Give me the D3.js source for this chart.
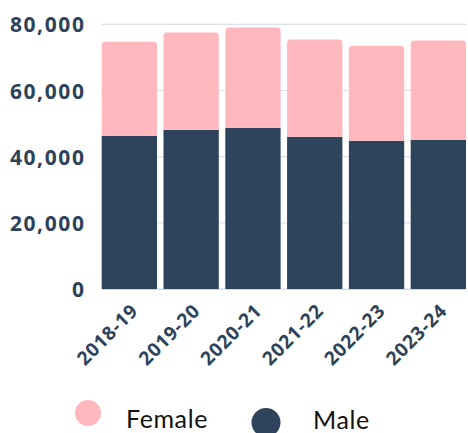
<!DOCTYPE html>
<html>
<head>
<meta charset="utf-8">
<script src="https://cdn.jsdelivr.net/npm/d3@7"></script>
<style>
  body { margin: 0; background: #fff; }
  svg { display: block; }
  .tick text { font-family: "Open Sans", sans-serif; font-weight: 700; fill: #2e4259; }
</style>
</head>
<body>
<svg id="chart"></svg>
<script>
let years = ["2018-19", "2019-20", "2020-21", "2021-22", "2022-23", "2023-24"]
let male = [46300, 48100, 48700, 46000, 44800, 45100]
let female = [28400, 29400, 30300, 29400, 28700, 30000]
let yTicks = [0, 20000, 40000, 60000, 80000]

let W = 468, H = 433
let navy = "#2e435c", pink = "#ffb8bd"

var svg = d3.select("#chart").attr("width", W).attr("height", H)

var x = d3.scaleBand()
    .domain(years)
    .range([101.7, 466])
    .paddingInner(0.105)
    .paddingOuter(0)

var y = d3.scaleLinear()
    .domain([0, 80000])
    .range([289, 24.3])

// gridlines
svg.append("g")
    .selectAll("line")
    .data(yTicks)
    .enter().append("line")
    .attr("x1", 101.7).attr("x2", 466)
    .attr("y1", d => y(d)).attr("y2", d => y(d))
    .attr("stroke", "#dde0e6")
    .attr("stroke-width", 1.2)

// y axis labels
var yAxis = svg.append("g")
    .attr("transform", "translate(85.5,0)")
    .call(d3.axisLeft(y).tickValues(yTicks).tickSize(0).tickPadding(0).tickFormat(d3.format(",")))
yAxis.select(".domain").remove()
yAxis.selectAll("text")
    .style("font-size", "21px")
    .style("letter-spacing", "1.6px")
    .attr("dy", "0.36em")

let data = years.map((d, i) => ({ year: d, male: male[i], female: female[i] }))

// male bars
svg.append("g")
    .selectAll("rect")
    .data(data)
    .enter().append("rect")
    .attr("x", d => x(d.year))
    .attr("y", d => y(d.male))
    .attr("width", x.bandwidth())
    .attr("height", d => y(0) - y(d.male))
    .attr("fill", navy)

// female bars with rounded top
svg.append("g")
    .selectAll("path")
    .data(data)
    .enter().append("path")
    .attr("d", function(d) {
        var x0 = x(d.year), x1 = x0 + x.bandwidth()
        var top = y(d.male + d.female), bot = y(d.male)
        var r = 3.5
        return "M" + x0 + "," + bot + "V" + (top + r) +
            "Q" + x0 + "," + top + " " + (x0 + r) + "," + top +
            "H" + (x1 - r) +
            "Q" + x1 + "," + top + " " + x1 + "," + (top + r) +
            "V" + bot + "Z"
    })
    .attr("fill", pink)

// baseline
svg.append("line")
    .attr("x1", 101.7).attr("x2", 466)
    .attr("y1", y(0) + 0.5).attr("y2", y(0) + 0.5)
    .attr("stroke", "#d5d9e2")
    .attr("stroke-width", 1.2)

// x axis labels
var xAxis = svg.append("g")
    .attr("transform", "translate(0," + y(0) + ")")
    .call(d3.axisBottom(x).tickSize(0).tickPadding(0))
xAxis.select(".domain").remove()
xAxis.selectAll("text")
    .style("font-size", "19px")
    .style("letter-spacing", "0.8px")
    .style("text-anchor", "end")
    .attr("dy", null)
    .attr("y", 0)
    .attr("transform", "translate(10,23) rotate(-45)")

// legend
let legendItems = [
    { name: "Female", color: pink, cx: 88, cy: 413, r: 13, tx: 126, ty: 428 },
    { name: "Male", color: navy, cx: 266, cy: 422.5, r: 14.5, tx: 313, ty: 429 }
]
var legend = svg.append("g")
legend.selectAll("circle")
    .data(legendItems)
    .enter().append("circle")
    .attr("cx", d => d.cx).attr("cy", d => d.cy).attr("r", d => d.r)
    .attr("fill", d => d.color)
legend.selectAll("text")
    .data(legendItems)
    .enter().append("text")
    .attr("x", d => d.tx).attr("y", d => d.ty)
    .style("font-family", "Lato, sans-serif")
    .style("font-size", "25px")
    .style("letter-spacing", "0.6px")
    .style("fill", "#111")
    .text(d => d.name)
</script>
</body>
</html>
